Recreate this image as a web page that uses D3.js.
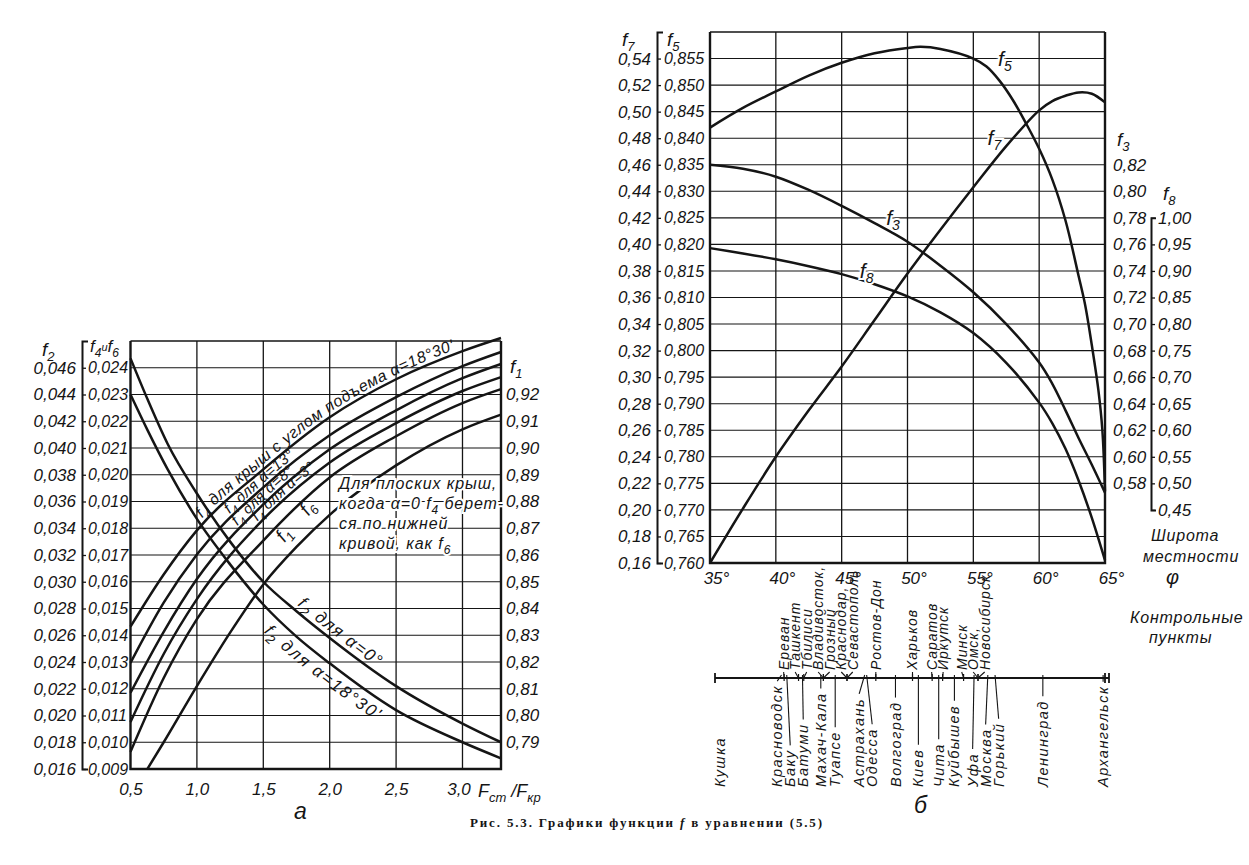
<!DOCTYPE html>
<html>
<head>
<meta charset="utf-8">
<script src="https://cdn.jsdelivr.net/npm/d3@7"></script>
<style>
body { margin: 0; background: #fff; }
text { font-family: "Liberation Sans", Arimo, sans-serif; font-style: italic; font-size: 16px; fill: #151515; }
</style>
</head>
<body>
<svg id="chart" width="1249" height="865"></svg>
<script>
// ---- chart а : functions of Fст/Fкр ----
var ratioTicks = [0.5, 1.0, 1.5, 2.0, 2.5, 3.0];
var f2Ticks = [0.016, 0.018, 0.020, 0.022, 0.024, 0.026, 0.028, 0.030, 0.032, 0.034, 0.036, 0.038, 0.040, 0.042, 0.044, 0.046];
var f4Ticks = [0.009, 0.010, 0.011, 0.012, 0.013, 0.014, 0.015, 0.016, 0.017, 0.018, 0.019, 0.020, 0.021, 0.022, 0.023, 0.024];
var f1Ticks = [0.79, 0.80, 0.81, 0.82, 0.83, 0.84, 0.85, 0.86, 0.87, 0.88, 0.89, 0.90, 0.91, 0.92];

var ratioF2 = [0.5, 0.63, 0.78, 1.0, 1.25, 1.5, 1.75, 2.0, 2.5, 3.0, 3.29];
var f2Alpha0 = [0.0467, 0.0436, 0.0403, 0.0366, 0.0330, 0.0300, 0.0278, 0.0258, 0.0222, 0.0194, 0.0180];
var f2Alpha18 = [0.0440, 0.0413, 0.0384, 0.0347, 0.0313, 0.0283, 0.0259, 0.0239, 0.0204, 0.0180, 0.0168];

var ratioF4 = [0.5, 0.75, 1.0, 1.5, 2.0, 2.5, 3.0, 3.29];
var f4Alpha18 = [0.01432, 0.01627, 0.01792, 0.02020, 0.02215, 0.02357, 0.02462, 0.02511];
var f4Alpha13 = [0.01297, 0.01522, 0.01702, 0.01953, 0.02148, 0.02290, 0.02406, 0.02459];
var f4Alpha8 = [0.01185, 0.01413, 0.01610, 0.01889, 0.02095, 0.02241, 0.02361, 0.02414];
var f4Alpha3 = [0.01076, 0.01330, 0.01535, 0.01833, 0.02046, 0.02193, 0.02313, 0.02365];
var f6 = [0.00964, 0.01240, 0.01460, 0.01754, 0.01990, 0.02144, 0.02268, 0.02320];

var ratioF1 = [0.627, 0.75, 1.0, 1.25, 1.5, 1.75, 2.0, 2.5, 3.0, 3.29];
var f1 = [0.780, 0.790, 0.811, 0.831, 0.849, 0.863, 0.875, 0.8935, 0.907, 0.9125];

// ---- chart б : functions of latitude ----
var latTicks = [35, 40, 45, 50, 55, 60, 65];
var f7Ticks = [0.16, 0.18, 0.20, 0.22, 0.24, 0.26, 0.28, 0.30, 0.32, 0.34, 0.36, 0.38, 0.40, 0.42, 0.44, 0.46, 0.48, 0.50, 0.52, 0.54];
var f5Ticks = [0.760, 0.765, 0.770, 0.775, 0.780, 0.785, 0.790, 0.795, 0.800, 0.805, 0.810, 0.815, 0.820, 0.825, 0.830, 0.835, 0.840, 0.845, 0.850, 0.855];
var f3Ticks = [0.58, 0.60, 0.62, 0.64, 0.66, 0.68, 0.70, 0.72, 0.74, 0.76, 0.78, 0.80, 0.82];
var f8Ticks = [0.45, 0.50, 0.55, 0.60, 0.65, 0.70, 0.75, 0.80, 0.85, 0.90, 0.95, 1.00];

var latF5 = [35, 37.5, 40, 42.5, 45, 47.5, 50, 51, 52.5, 55, 56, 57, 58, 59, 60, 61, 62, 63, 63.5, 64, 64.5, 64.8, 65];
var f5 = [0.8420, 0.8457, 0.8488, 0.8518, 0.8542, 0.8560, 0.8570, 0.8572, 0.8568, 0.8550, 0.8535, 0.8508, 0.8472, 0.8428, 0.8380, 0.8322, 0.8245, 0.8140, 0.8085, 0.8010, 0.7925, 0.7850, 0.7735];
var lat = [35, 37.5, 40, 42.5, 45, 47.5, 50, 52.5, 55, 57.5, 60, 61, 62, 63, 64, 65];
var f3 = [0.820, 0.817, 0.811, 0.801, 0.789, 0.776, 0.762, 0.744, 0.724, 0.700, 0.671, 0.655, 0.635, 0.614, 0.594, 0.573];
var f8 = [0.943, 0.933, 0.922, 0.909, 0.894, 0.875, 0.852, 0.822, 0.783, 0.727, 0.652, 0.613, 0.565, 0.505, 0.435, 0.355];
var f7 = [0.160, 0.201, 0.240, 0.275, 0.308, 0.343, 0.378, 0.411, 0.443, 0.474, 0.501, 0.508, 0.512, 0.5145, 0.5135, 0.507];

// control points (latitude, degrees)
var citiesUp = ["Ереван", "Ташкент", "Тбилиси", "Владивосток,", "Грозный", "Краснодар,", "Севастополь", "Ростов-Дон", "Харьков", "Саратов", "Иркутск", "Минск", "Омск,", "Новосибирск"];
var citiesUpLat = [40.2, 41.3, 41.7, 43.2, 43.2, 45.0, 45.0, 47.2, 50.0, 51.5, 52.3, 53.9, 55.0, 55.0];
var citiesLow = ["Кушка", "Красноводск", "Баку", "Батуми", "Махач-Кала", "Туапсе", "Астрахань", "Одесса", "Волгоград", "Киев", "Чита", "Куйбышев", "Уфа", "Москва", "Горький", "Ленинград", "Архангельск"];
var citiesLowLat = [35.3, 40.0, 40.4, 41.6, 43.0, 44.1, 46.35, 46.5, 48.7, 50.45, 52.0, 53.2, 54.7, 55.75, 56.3, 59.95, 64.55];

var ink = "#151515";
var svg = d3.select("#chart");
var loc = d3.formatLocale({decimal: ",", thousands: " ", grouping: [3], currency: ["", ""]});
var fmt1 = loc.format(".1f"), fmt2 = loc.format(".2f"), fmt3 = loc.format(".3f");

// text with {subscripts}
function rich(sel, str, base, subSize) {
	base = base || 0;
	var cur = 0;
	str.split(/(\{[^}]*\})/).filter(s => s.length).forEach(s => {
		var sub = s[0] == "{";
		var off = base + (sub ? 5 : 0);
		var ts = sel.append("tspan").text(sub ? s.slice(1, -1) : s).attr("dy", off - cur);
		if (sub) ts.style("font-size", (subSize || 12) + "px");
		cur = off;
	});
	return sel;
}
function note(g, x, y, str, size, subSize) {
	var t = g.append("text").attr("x", x).attr("y", y);
	if (size) t.style("font-size", size + "px");
	return rich(t, str, 0, subSize);
}
function halo(sel) {
	return sel.attr("stroke", "#fff").attr("stroke-width", 4).attr("paint-order", "stroke");
}
function styleAxis(g, keepDomain) {
	g.attr("color", ink).attr("font-size", null).attr("font-family", null);
	if (!keepDomain) g.select(".domain").remove();
	g.selectAll("line").attr("stroke-width", 1.3);
	g.select(".domain").attr("stroke-width", 2);
}
// length along a path where x first reaches xt
function offsetAt(node, xt) {
	var lo = 0, hi = node.getTotalLength();
	for (var k = 0; k < 30; k++) {
		var m = (lo + hi) / 2;
		if (node.getPointAtLength(m).x < xt) lo = m; else hi = m;
	}
	return lo;
}
function frame(g, b, wTop) {
	g.append("line").attr("x1", b.l).attr("x2", b.r).attr("y1", b.t).attr("y2", b.t).attr("stroke", ink).attr("stroke-width", wTop);
	g.append("path").attr("d", "M" + b.l + "," + b.t + "V" + b.b + "H" + b.r + "V" + b.t)
		.attr("fill", "none").attr("stroke", ink).attr("stroke-width", 2.4);
}
function drawSeries(g, list, xs, curve) {
	list.forEach(s => {
		var line = d3.line().x(d => xs(d[0])).y(d => s.y(d[1])).curve(curve);
		var p = g.append("path").attr("id", s.id).attr("d", line(d3.zip(s.x, s.v)))
			.attr("fill", "none").attr("stroke", ink).attr("stroke-width", 2.5);
		if (s.text) {
			var tp = g.append("text").style("font-size", s.size + "px").style("letter-spacing", s.ls + "px")
				.append("textPath").attr("href", "#" + s.id).attr("startOffset", offsetAt(p.node(), xs(s.at)));
			rich(tp, s.text, s.dy, s.sub);
		}
	});
}

// ================= chart а =================
var A = {l: 130.5, r: 501, t: 341, b: 769};
var xA = d3.scaleLinear().domain([0.5, 3.29]).range([A.l, A.r]);
var f4y = d3.scaleLinear().domain([0.009, 0.025]).range([A.b, A.t]);
var f2y = d3.scaleLinear().domain([0.016, 0.048]).range([A.b, A.t]);
var f1y = d3.scaleLinear().domain([0.78, 0.94]).range([A.b, A.t]);

var gA = svg.append("g");
gA.append("g").selectAll("line").data(f4Ticks.slice(1)).join("line")
	.attr("x1", A.l).attr("x2", A.r).attr("y1", d => f4y(d)).attr("y2", d => f4y(d))
	.attr("stroke", ink).attr("stroke-width", 1.1);
gA.append("g").selectAll("line").data(ratioTicks.slice(1)).join("line")
	.attr("x1", d => xA(d)).attr("x2", d => xA(d)).attr("y1", A.t).attr("y2", A.b)
	.attr("stroke", ink).attr("stroke-width", 1.3);
frame(gA, A, 1.4);

// left double scale
var axF4 = gA.append("g").attr("transform", "translate(82,0)")
	.call(d3.axisRight(f4y).tickValues(f4Ticks).tickFormat(fmt3).tickSize(4).tickSizeOuter(6).tickPadding(2));
styleAxis(axF4, true);
var axF2 = gA.append("g").attr("transform", "translate(82,0)")
	.call(d3.axisLeft(f2y).tickValues(f2Ticks).tickFormat(fmt3).tickSize(0).tickPadding(6));
styleAxis(axF2);
axF2.selectAll("text").style("font-size", "17px");
note(gA, 42, 356, "f{2}", 19, 13);
var t46 = note(gA, 90, 352, "f{4}", 17, 12);
t46.append("tspan").attr("dy", -6).style("font-size", "11px").text("и");
rich(t46, "f{6}", 1, 12);

var axF1 = gA.append("g").attr("transform", "translate(503,0)")
	.call(d3.axisRight(f1y).tickValues(f1Ticks).tickFormat(fmt2).tickSize(0).tickPadding(3));
styleAxis(axF1);
axF1.selectAll("text").style("font-size", "17px");
note(gA, 510, 373, "f{1}", 19, 13);

var axRatio = gA.append("g").attr("transform", "translate(0," + A.b + ")")
	.call(d3.axisBottom(xA).tickValues(ratioTicks).tickFormat(fmt1).tickSize(0).tickPadding(14));
styleAxis(axRatio);
axRatio.selectAll("text").style("font-size", "17px");
axRatio.selectAll("text").filter(d => d == 3.0).attr("dx", -4);
note(gA, 478, 797, "F{ст} /F{кр}", 18, 13);
note(gA, 294, 819, "а", 23);

drawSeries(gA, [
	{id: "f4a18", x: ratioF4, v: f4Alpha18, y: f4y, text: "f{4} для крыш с углом подъема α=18°30'", at: 1.06, dy: -4, size: 16, sub: 12, ls: 0.5},
	{id: "f4a13", x: ratioF4, v: f4Alpha13, y: f4y, text: "f{4} для α=13°", at: 1.26, dy: -3, size: 15, sub: 11, ls: 0.3},
	{id: "f4a8", x: ratioF4, v: f4Alpha8, y: f4y, text: "f{4} для α=8°", at: 1.32, dy: -3, size: 15, sub: 11, ls: 0.3},
	{id: "f4a3", x: ratioF4, v: f4Alpha3, y: f4y, text: "f{4} для α=3°", at: 1.47, dy: -3, size: 15, sub: 11, ls: 0.3},
	{id: "f6", x: ratioF4, v: f6, y: f4y},
	{id: "f1", x: ratioF1, v: f1, y: f1y},
	{id: "f2a0", x: ratioF2, v: f2Alpha0, y: f2y, text: "f{2} для α=0°", at: 1.73, dy: -5, size: 17, sub: 13, ls: 1.6},
	{id: "f2a18", x: ratioF2, v: f2Alpha18, y: f2y, text: "f{2} для α=18°30'", at: 1.60, dy: 19, size: 17, sub: 13, ls: 1.6}
], xA, d3.curveMonotoneX);

note(gA, xA(1.84), f4y(0.01844), "f{6}", 19, 13).attr("transform", "rotate(-52," + xA(1.84) + "," + f4y(0.01844) + ")");
note(gA, xA(1.66), f4y(0.01745), "f{1}", 19, 13).attr("transform", "rotate(-52," + xA(1.66) + "," + f4y(0.01745) + ")");
["Для плоских крыш,", "когда α=0 f{4} берет-", "ся по нижней", "кривой, как f{6}"].forEach((s, i) => {
	halo(note(gA, 339, 489 + i * 20, s, 16, 12).style("letter-spacing", "0.9px"));
});

// ================= chart б =================
var B = {l: 710, r: 1105, t: 32, b: 563};
var xB = d3.scaleLinear().domain([35, 65]).range([B.l, B.r]);
var f5y = d3.scaleLinear().domain([0.760, 0.860]).range([B.b, B.t]);
var f7y = d3.scaleLinear().domain([0.16, 0.56]).range([B.b, B.t]);
var f3y = d3.scaleLinear().domain([0.52, 0.92]).range([B.b, B.t]);
var f8y = d3.scaleLinear().domain([0.35, 1.35]).range([B.b, B.t]);

var gB = svg.append("g");
gB.append("g").selectAll("line").data(f5Ticks.slice(1)).join("line")
	.attr("x1", B.l).attr("x2", B.r).attr("y1", d => f5y(d)).attr("y2", d => f5y(d))
	.attr("stroke", ink).attr("stroke-width", 1.1);
gB.append("g").selectAll("line").data(latTicks.slice(1, -1)).join("line")
	.attr("x1", d => xB(d)).attr("x2", d => xB(d)).attr("y1", B.t).attr("y2", B.b)
	.attr("stroke", ink).attr("stroke-width", 1.3);
frame(gB, B, 1.4);

var axF5 = gB.append("g").attr("transform", "translate(657,0)")
	.call(d3.axisRight(f5y).tickValues(f5Ticks).tickFormat(fmt3).tickSize(4).tickSizeOuter(6).tickPadding(3));
styleAxis(axF5, true);
var axF7 = gB.append("g").attr("transform", "translate(657,0)")
	.call(d3.axisLeft(f7y).tickValues(f7Ticks).tickFormat(fmt2).tickSize(0).tickPadding(6));
styleAxis(axF7);
axF7.selectAll("text").style("font-size", "17px");
note(gB, 622, 46, "f{7}", 19, 13);
note(gB, 667, 46, "f{5}", 19, 13);

var axF3 = gB.append("g").attr("transform", "translate(1109,0)")
	.call(d3.axisRight(f3y).tickValues(f3Ticks).tickFormat(fmt2).tickSize(0).tickPadding(4));
styleAxis(axF3);
axF3.selectAll("text").style("font-size", "17px");
note(gB, 1117, 146, "f{3}", 19, 13);
var f8Bar = f8y.copy().domain([0.45, 1.00]).range([f8y(0.45), f8y(1.00)]);
var axF8 = gB.append("g").attr("transform", "translate(1151,0)")
	.call(d3.axisRight(f8Bar).tickValues(f8Ticks).tickFormat(fmt2).tickSize(4).tickSizeOuter(5).tickPadding(3));
styleAxis(axF8, true);
axF8.selectAll("text").style("font-size", "17px");
note(gB, 1163, 200, "f{8}", 19, 13);

var axLat = gB.append("g").attr("transform", "translate(0," + B.b + ")")
	.call(d3.axisBottom(xB).tickValues(latTicks).tickFormat(d => d + "°").tickSize(0).tickPadding(9));
styleAxis(axLat);
axLat.selectAll("text").attr("dx", 6).style("font-size", "17px");
note(gB, 1166, 584, "φ", 20);
note(gB, 1151, 541, "Широта", 16).style("letter-spacing", "0.8px");
note(gB, 1143, 562, "местности", 16).style("letter-spacing", "0.8px");

drawSeries(gB, [
	{id: "cf5", x: latF5, v: f5, y: f5y},
	{id: "cf7", x: lat, v: f7, y: f7y},
	{id: "cf3", x: lat, v: f3, y: f3y},
	{id: "cf8", x: lat, v: f8, y: f8y}
], xB, d3.curveCatmullRom.alpha(0.5));
[["f{5}", 57.4, 0.855], ["f{7}", 56.6, 0.840], ["f{3}", 48.9, 0.825], ["f{8}", 46.9, 0.815]].forEach(d => {
	halo(note(gB, xB(d[1]), f5y(d[2]) + 7, d[0], 21, 14).attr("text-anchor", "middle"));
});

// ---- control points line ----
var lineY = 678;
var xC = d3.scaleLinear().domain([35, 65]).range([716, 1109]);
var gC = svg.append("g").attr("stroke", ink);
gC.append("line").attr("x1", xC(35) - 1).attr("x2", xC(65)).attr("y1", lineY).attr("y2", lineY).attr("stroke-width", 2);
[xC(35) - 1, xC(65) - 4, xC(65)].forEach(x => {
	gC.append("line").attr("x1", x).attr("x2", x).attr("y1", lineY - 5).attr("y2", lineY + 5).attr("stroke-width", 1.8);
});
function spread(xs, gap) {
	var p = xs.slice();
	for (var k = 0; k < 300; k++)
		for (var i = 0; i < p.length - 1; i++) {
			var d = p[i + 1] - p[i];
			if (d < gap) { p[i] -= (gap - d) / 2; p[i + 1] += (gap - d) / 2; }
		}
	return p;
}
var upX = spread(citiesUpLat.map(xC), 11.5);
citiesUp.forEach((c, i) => {
	var tx = xC(citiesUpLat[i]);
	gC.append("line").attr("x1", tx).attr("x2", tx).attr("y1", lineY - 4).attr("y2", lineY + 3).attr("stroke-width", 1.2);
	gC.append("line").attr("x1", tx).attr("y1", lineY).attr("x2", upX[i]).attr("y2", lineY - 6).attr("stroke-width", 1.1);
	gC.append("text").attr("stroke", "none").attr("x", upX[i]).attr("y", lineY - 8).attr("dy", "0.35em")
		.attr("transform", "rotate(-90," + upX[i] + "," + (lineY - 8) + ")")
		.style("font-size", "14px").style("letter-spacing", "1px").text(c);
});
var lowX = spread(citiesLowLat.map(xC), 13);
citiesLow.forEach((c, i) => {
	var tx = xC(citiesLowLat[i]);
	var t = gC.append("text").attr("stroke", "none").attr("x", lowX[i]).attr("y", 787).attr("dy", "0.35em")
		.attr("transform", "rotate(-90," + lowX[i] + ",787)")
		.style("font-size", "14.5px").style("letter-spacing", "1.5px").text(c);
	var len = t.node().getComputedTextLength();
	// the end of the line carries its own label, no leader
	if (citiesLowLat[i] > 35.5) {
		gC.append("line").attr("x1", tx).attr("y1", lineY - 3).attr("x2", lowX[i]).attr("y2", 787 - len - 4).attr("stroke-width", 1.1);
	}
});
note(svg, 1130, 623, "Контрольные", 16).style("letter-spacing", "0.8px");
note(svg, 1149, 643, "пункты", 16).style("letter-spacing", "0.8px");
note(svg, 914, 813, "б", 23);

// caption
var cap = svg.append("text").attr("x", 646).attr("y", 827).attr("text-anchor", "middle")
	.attr("textLength", 352).attr("lengthAdjust", "spacing")
	.style("font-family", "'Liberation Serif', 'DejaVu Serif', serif").style("font-style", "normal")
	.style("font-weight", "bold").style("font-size", "13px");
cap.append("tspan").text("Рис. 5.3. Графики функции ");
cap.append("tspan").style("font-style", "italic").text("f");
cap.append("tspan").text(" в уравнении (5.5)");
</script>
</body>
</html>
